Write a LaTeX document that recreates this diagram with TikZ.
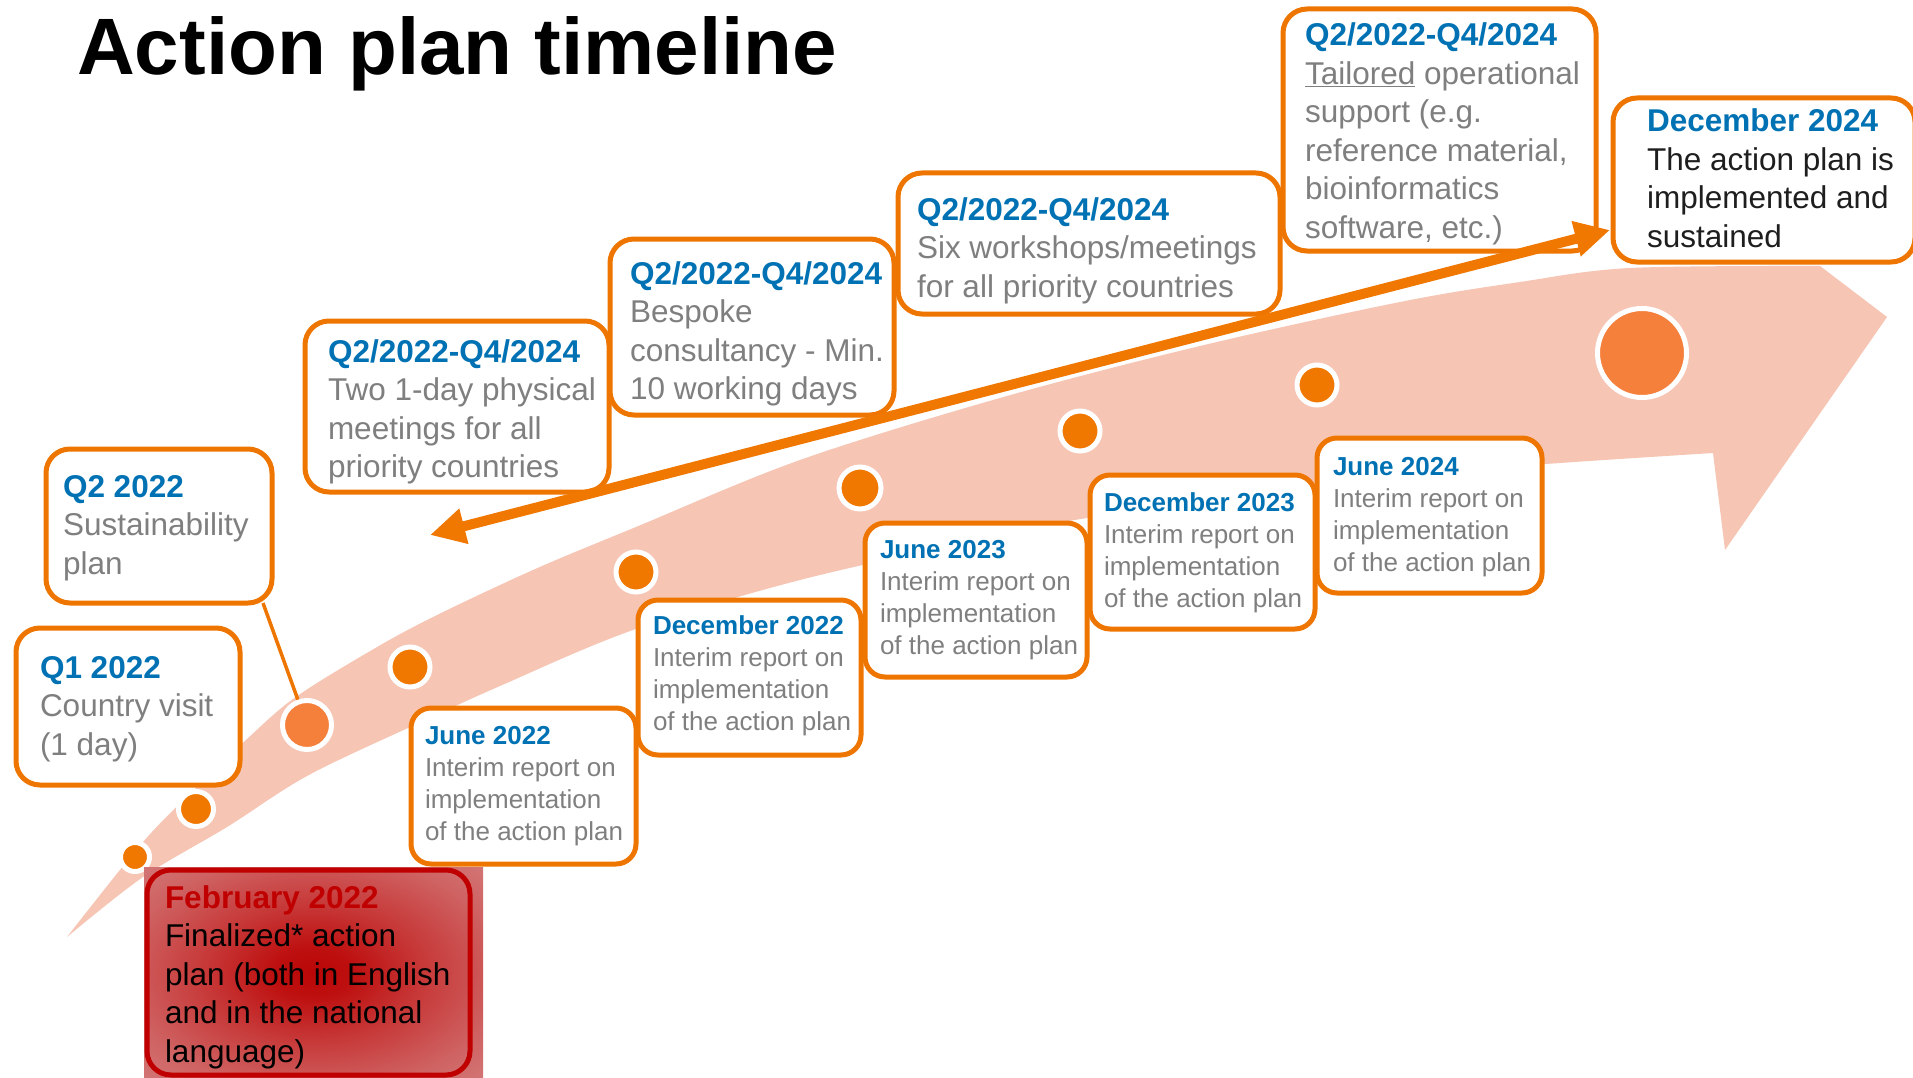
\documentclass[tikz,border=0pt]{standalone}
\usepackage{fontspec}
\setmainfont{Liberation Sans}
\usepackage{array}
\usetikzlibrary{arrows.meta,fit}

\definecolor{boxorange}{RGB}{238,118,0}
\definecolor{dotorange}{RGB}{240,120,0}
\definecolor{dotlight}{RGB}{244,128,60}
\definecolor{ribbon}{RGB}{246,197,180}
\definecolor{headblue}{RGB}{0,114,180}
\definecolor{bodygray}{RGB}{127,127,127}
\definecolor{bodydark}{RGB}{30,30,30}
\definecolor{febred}{RGB}{192,0,0}
\definecolor{febcore}{RGB}{186,6,6}
\definecolor{febinner}{RGB}{190,16,16}
\definecolor{febwarm}{RGB}{199,56,56}
\definecolor{febmid}{RGB}{207,98,98}
\definecolor{febouter}{RGB}{214,134,134}
\definecolor{febedge}{RGB}{225,184,184}

\pgfdeclareradialshading{febglow}{\pgfpoint{0bp}{0bp}}{color(0bp)=(febcore); color(6bp)=(febinner); color(16bp)=(febwarm); color(28bp)=(febmid); color(42bp)=(febouter); color(71bp)=(febedge)}

\newcommand{\bigfnt}{\fontsize{31.5}{38.5}\selectfont}
\newcommand{\smallfnt}{\fontsize{26}{32}\selectfont}
% heading in blue, remaining lines in the given colour
\newcommand{\entry}[3]{\begin{tabular}[t]{@{}>{\color{#1}}l@{}}\textbf{\color{headblue}#2}\\#3\end{tabular}}

\begin{document}
\begin{tikzpicture}[x=1pt, y=-1pt,
  box/.style={draw=boxorange, line width=5pt, fill=white, rounded corners=24pt, inner sep=0pt, outer sep=0pt},
  smallbox/.style={box, rounded corners=20pt},
  dot/.style={circle, fill=dotorange, draw=white, line width=5pt, inner sep=0pt, minimum size=#1},
  bigdot/.style={dot=#1, fill=dotlight},
  lbl/.style={anchor=base west, inner sep=0pt, outer sep=0pt, font=\bigfnt},
  slbl/.style={lbl, font=\smallfnt},
]
\useasboundingbox (0,0) rectangle (1913,1078);
\fill[white] (0,0) rectangle (1913,1078);

% title
\node[anchor=base west, inner sep=0pt, font=\fontsize{80}{96}\selectfont\bfseries] (title) at (77,75) {Action plan timeline};

% the curved timeline ribbon ending in an arrow head
\fill[ribbon] (67,937)
  -- plot[smooth, tension=0.55] coordinates {(67,937) (143,842) (200,784) (247,739) (293,699) (360,657) (427,620) (533,570) (636,527) (800,460) (1000,398) (1200,346) (1400,302) (1520,282) (1630,268) (1820,266)}
  -- (1887,317) -- (1725,550) -- (1713,453)
  -- plot[smooth, tension=0.55] coordinates {(1713,453) (1560,463) (1400,475) (1280,490) (1093,517) (1000,535) (800,580) (633,630) (500,686) (410,727) (307,776) (227,827) (143,877) (67,937)}
  -- cycle;

% milestone dots
\coordinate (q2foot) at (263,603);
\node[dot=29pt] (d1) at (135,857) {};
\node[dot=35pt] (d2) at (196,809) {};
\node[bigdot=49pt] (d3) at (307,725) {};
\node[dot=40pt] (d4) at (410,667) {};
\node[dot=40pt] (d5) at (636,572) {};
\node[dot=42pt] (d6) at (860,488) {};
\node[dot=40pt] (d7) at (1080,431) {};
\node[dot=40pt] (d8) at (1317,385) {};
\node[bigdot=89pt] (d9) at (1642,353) {};
\draw[boxorange, line width=3.5pt] (q2foot) -- (d3);

% finalized plan, highlighted
\shade[shading=febglow] (144,867) rectangle (483,1078);
\node[draw=febred, line width=5pt, rounded corners=24pt, inner sep=0pt, outer sep=0pt, fit={(147,870) (470,1075)}] (febbox) {};
\node[lbl, text=black] (febtxt) at (165,908) {\begin{tabular}[t]{@{}l@{}}\textbf{\color{febred}February 2022}\\Finalized* action\\plan (both in English\\and in the national\\language)\end{tabular}};

% upper row of activities
\node[box, fit={(16,628) (240,785)}] (q1box) {};
\node[lbl] (q1txt) at (40,678) {\entry{bodygray}{Q1 2022}{Country visit\\(1 day)}};
\node[box, fit={(46,449) (272,603)}] (q2box) {};
\node[lbl] (q2txt) at (63,497) {\entry{bodygray}{Q2 2022}{Sustainability\\plan}};
\node[box, fit={(305,321) (609,492)}] (meetbox) {};
\node[lbl] (meettxt) at (328,362) {\entry{bodygray}{Q2/2022-Q4/2024}{Two 1-day physical\\meetings for all\\priority countries}};
\node[box, fit={(610,239) (894,415)}] (spokebox) {};
\node[lbl] (spoketxt) at (630,284) {\entry{bodygray}{Q2/2022-Q4/2024}{Bespoke\\consultancy - Min.\\10 working days}};
\node[box, fit={(898,173) (1280,314)}] (shopbox) {};
\node[lbl] (shoptxt) at (917,220) {\entry{bodygray}{Q2/2022-Q4/2024}{Six workshops/meetings\\for all priority countries}};
\node[box, fit={(1283,9) (1596,251)}] (tailbox) {};
\node[lbl] (tailtxt) at (1305,46) {\entry{bodygray}{Q2/2022-Q4/2024}{\underline{Tailored} operational\\support (e.g.\\reference material,\\bioinformatics\\software, etc.)}};
\node[box, fit={(1613,98) (1915,262)}] (d24box) {};
\node[lbl] (d24txt) at (1647,132) {\entry{bodydark}{December 2024}{The action plan is\\implemented and\\sustained}};

% interim reports
\node[smallbox, fit={(411,708) (636,864)}] (j22box) {};
\node[slbl] (j22txt) at (425,744) {\entry{bodygray}{June 2022}{Interim report on\\implementation\\of the action plan}};
\node[smallbox, fit={(638,600) (861,755)}] (d22box) {};
\node[slbl] (d22txt) at (653,634) {\entry{bodygray}{December 2022}{Interim report on\\implementation\\of the action plan}};
\node[smallbox, fit={(865,523) (1087,677)}] (j23box) {};
\node[slbl] (j23txt) at (880,558) {\entry{bodygray}{June 2023}{Interim report on\\implementation\\of the action plan}};
\node[smallbox, fit={(1090,475) (1315,629)}] (d23box) {};
\node[slbl] (d23txt) at (1104,511) {\entry{bodygray}{December 2023}{Interim report on\\implementation\\of the action plan}};
\node[smallbox, fit={(1317,438) (1542,593)}] (j24box) {};
\node[slbl] (j24txt) at (1333,475) {\entry{bodygray}{June 2024}{Interim report on\\implementation\\of the action plan}};

% span of the support activities
\coordinate (arrL) at (430,535);
\coordinate (arrR) at (1610,230);
\draw[dotorange, line width=10pt, {Triangle[length=35pt,width=34pt]}-{Triangle[length=35pt,width=34pt]}] (arrL) -- (arrR);
\end{tikzpicture}
\end{document}
